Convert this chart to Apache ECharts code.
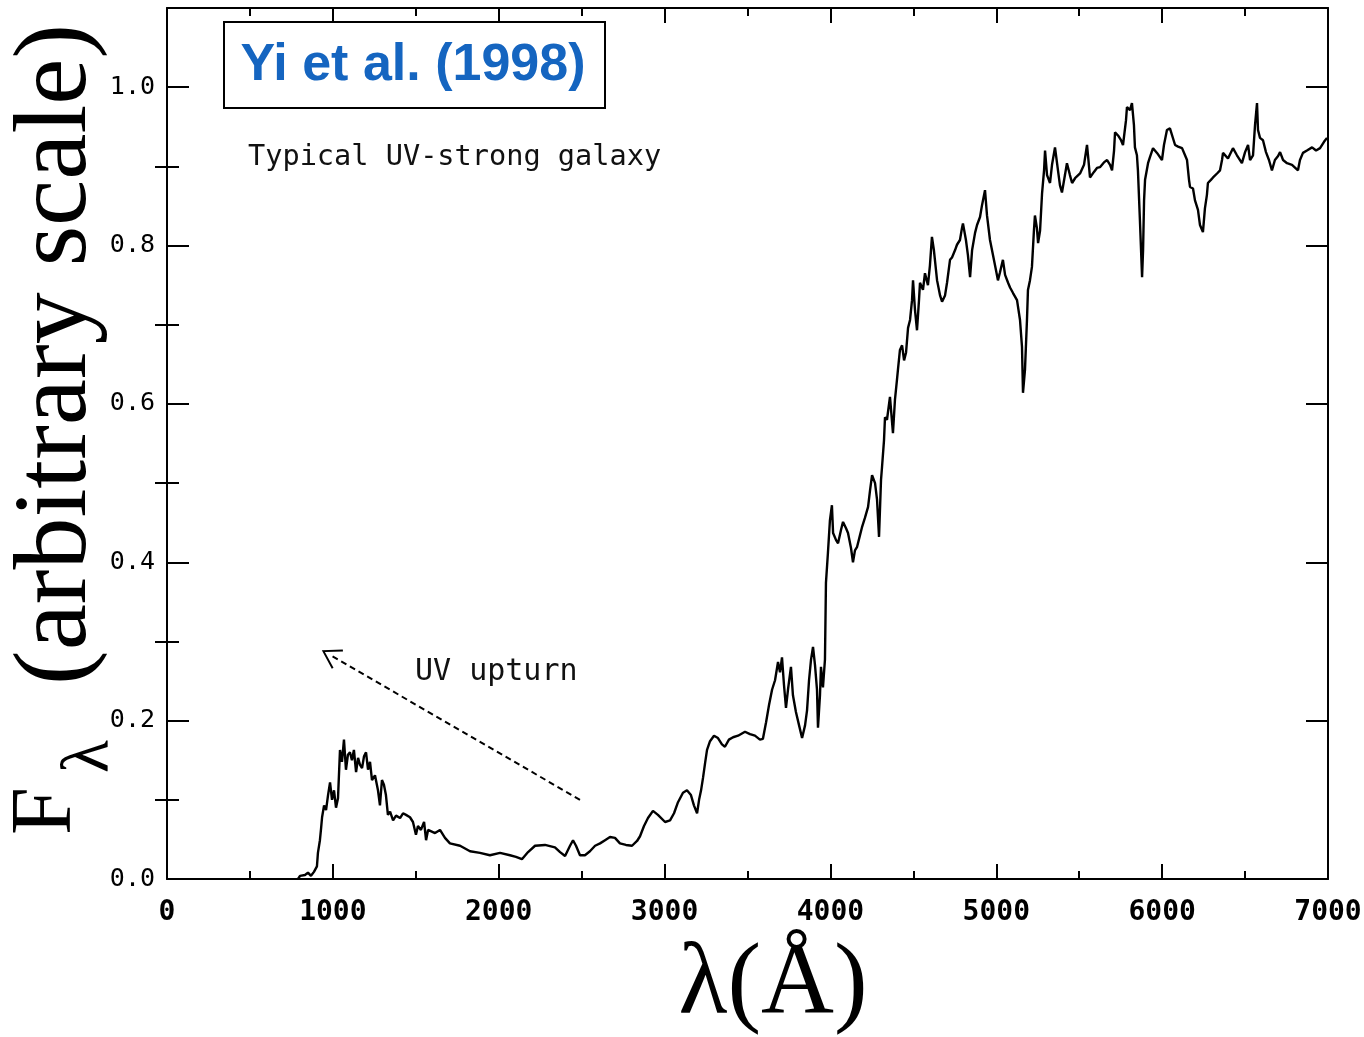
<!DOCTYPE html>
<html>
<head>
<meta charset="utf-8">
<script src="https://cdn.jsdelivr.net/npm/echarts@6/dist/echarts.min.js"></script>
<style>
  html, body { margin: 0; padding: 0; background: #fff; overflow: hidden; }
  #chart { width: 1364px; height: 1037px; }
</style>
</head>
<body>
<div id="chart"></div>
<script>
// Spectral energy distribution of a typical UV-strong galaxy (Yi et al. 1998)
// Wavelength in Angstrom
const wavelength = [
  790, 802, 832, 850, 868, 886, 904, 910, 922, 929,
  935, 947, 959, 971, 983, 995, 1007, 1019, 1031, 1043,
  1049, 1055, 1067, 1079, 1091, 1103, 1115, 1127, 1140, 1152,
  1164, 1176, 1188, 1200, 1212, 1224, 1236, 1254, 1272, 1284,
  1296, 1308, 1320, 1332, 1345, 1363, 1381, 1405, 1423, 1441,
  1465, 1483, 1501, 1513, 1531, 1550, 1562, 1574, 1586, 1616,
  1646, 1676, 1706, 1767, 1827, 1887, 1947, 2008, 2068, 2104,
  2140, 2177, 2219, 2279, 2339, 2370, 2400, 2430, 2448, 2466,
  2490, 2520, 2550, 2581, 2611, 2641, 2671, 2701, 2731, 2767,
  2804, 2834, 2852, 2876, 2900, 2930, 2960, 3003, 3033, 3057,
  3081, 3111, 3135, 3159, 3177, 3196, 3208, 3220, 3232, 3244,
  3256, 3274, 3298, 3322, 3346, 3364, 3388, 3413, 3443, 3485,
  3515, 3545, 3575, 3593, 3612, 3630, 3648, 3666, 3684, 3696,
  3708, 3720, 3732, 3744, 3762, 3774, 3792, 3811, 3829, 3847,
  3859, 3871, 3883, 3895, 3907, 3919, 3925, 3937, 3943, 3955,
  3967, 3973, 3985, 3997, 4009, 4016, 4034, 4046, 4064, 4076,
  4094, 4106, 4124, 4136, 4148, 4160, 4178, 4190, 4208, 4227,
  4239, 4251, 4269, 4281, 4293, 4305, 4311, 4323, 4329, 4341,
  4359, 4377, 4389, 4401, 4407, 4419, 4432, 4444, 4456, 4468,
  4480, 4492, 4498, 4510, 4522, 4534, 4540, 4558, 4570, 4588,
  4600, 4612, 4624, 4643, 4661, 4673, 4691, 4703, 4721, 4733,
  4751, 4763, 4781, 4793, 4799, 4817, 4829, 4842, 4854, 4872,
  4884, 4902, 4914, 4932, 4944, 4962, 4980, 4998, 5010, 5022,
  5040, 5053, 5071, 5083, 5101, 5125, 5143, 5155, 5161, 5173,
  5185, 5191, 5203, 5215, 5227, 5233, 5245, 5252, 5264, 5276,
  5288, 5294, 5306, 5324, 5336, 5354, 5372, 5384, 5396, 5414,
  5426, 5444, 5457, 5475, 5505, 5529, 5547, 5553, 5565, 5589,
  5607, 5625, 5649, 5668, 5686, 5698, 5710, 5716, 5734, 5752,
  5764, 5776, 5782, 5788, 5806, 5818, 5830, 5836, 5848, 5854,
  5866, 5879, 5885, 5891, 5897, 5915, 5927, 5945, 5969, 5999,
  6011, 6029, 6047, 6059, 6078, 6096, 6120, 6138, 6150, 6162,
  6168, 6186, 6198, 6216, 6228, 6246, 6258, 6270, 6276, 6294,
  6307, 6331, 6349, 6361, 6367, 6397, 6427, 6451, 6481, 6500,
  6518, 6530, 6548, 6560, 6572, 6578, 6590, 6608, 6626, 6644,
  6662, 6680, 6699, 6711, 6729, 6753, 6783, 6819, 6831, 6849,
  6873, 6904, 6928, 6952, 6976, 6994
];

// F_lambda, arbitrary scale (same order as wavelength)
const flux = [
  0.000, 0.004, 0.005, 0.008, 0.004, 0.009, 0.016, 0.033, 0.049, 0.064,
  0.078, 0.093, 0.087, 0.106, 0.122, 0.100, 0.112, 0.090, 0.102, 0.163,
  0.165, 0.148, 0.176, 0.138, 0.157, 0.160, 0.150, 0.163, 0.135, 0.153,
  0.144, 0.140, 0.155, 0.160, 0.138, 0.148, 0.125, 0.131, 0.112, 0.093,
  0.125, 0.119, 0.106, 0.081, 0.085, 0.074, 0.080, 0.077, 0.083, 0.081,
  0.078, 0.072, 0.056, 0.067, 0.062, 0.072, 0.049, 0.062, 0.064, 0.058,
  0.062, 0.052, 0.045, 0.042, 0.035, 0.033, 0.030, 0.033, 0.030, 0.028,
  0.025, 0.034, 0.042, 0.043, 0.040, 0.034, 0.029, 0.042, 0.049, 0.042,
  0.030, 0.030, 0.035, 0.042, 0.045, 0.049, 0.053, 0.052, 0.045, 0.043,
  0.042, 0.048, 0.054, 0.067, 0.077, 0.086, 0.081, 0.072, 0.074, 0.083,
  0.097, 0.109, 0.112, 0.106, 0.093, 0.083, 0.100, 0.112, 0.128, 0.146,
  0.163, 0.174, 0.181, 0.178, 0.170, 0.167, 0.176, 0.179, 0.181, 0.186,
  0.183, 0.181, 0.176, 0.177, 0.198, 0.220, 0.239, 0.251, 0.274, 0.261,
  0.280, 0.245, 0.216, 0.239, 0.268, 0.232, 0.211, 0.194, 0.178, 0.194,
  0.213, 0.251, 0.277, 0.293, 0.270, 0.239, 0.191, 0.232, 0.268, 0.242,
  0.277, 0.374, 0.412, 0.453, 0.472, 0.437, 0.428, 0.424, 0.441, 0.451,
  0.443, 0.437, 0.418, 0.400, 0.415, 0.419, 0.434, 0.444, 0.456, 0.470,
  0.491, 0.510, 0.500, 0.479, 0.432, 0.504, 0.520, 0.554, 0.583, 0.580,
  0.609, 0.563, 0.605, 0.630, 0.643, 0.668, 0.674, 0.655, 0.665, 0.696,
  0.706, 0.731, 0.756, 0.718, 0.693, 0.731, 0.753, 0.744, 0.765, 0.750,
  0.775, 0.811, 0.794, 0.756, 0.737, 0.729, 0.737, 0.753, 0.782, 0.785,
  0.794, 0.801, 0.807, 0.822, 0.828, 0.807, 0.788, 0.760, 0.794, 0.816,
  0.826, 0.836, 0.851, 0.870, 0.838, 0.807, 0.788, 0.769, 0.756, 0.766,
  0.782, 0.763, 0.753, 0.747, 0.740, 0.731, 0.706, 0.672, 0.614, 0.643,
  0.706, 0.744, 0.756, 0.773, 0.819, 0.838, 0.822, 0.803, 0.819, 0.866,
  0.895, 0.920, 0.889, 0.879, 0.902, 0.924, 0.895, 0.876, 0.867, 0.889,
  0.904, 0.889, 0.879, 0.885, 0.891, 0.902, 0.927, 0.914, 0.886, 0.893,
  0.898, 0.899, 0.905, 0.908, 0.902, 0.895, 0.920, 0.943, 0.939, 0.933,
  0.927, 0.929, 0.958, 0.975, 0.971, 0.980, 0.952, 0.924, 0.914, 0.895,
  0.832, 0.760, 0.794, 0.857, 0.883, 0.904, 0.912, 0.923, 0.917, 0.908,
  0.927, 0.946, 0.948, 0.949, 0.927, 0.925, 0.923, 0.914, 0.908, 0.883,
  0.874, 0.872, 0.857, 0.845, 0.826, 0.817, 0.847, 0.864, 0.879, 0.883,
  0.886, 0.891, 0.895, 0.908, 0.917, 0.910, 0.923, 0.914, 0.904, 0.918,
  0.927, 0.908, 0.914, 0.952, 0.980, 0.946, 0.936, 0.933, 0.918, 0.908,
  0.895, 0.908, 0.913, 0.918, 0.908, 0.904, 0.902, 0.895, 0.908, 0.917,
  0.920, 0.924, 0.920, 0.923, 0.931, 0.936
];

// Axis ticks
const xTickValues = [0, 1000, 2000, 3000, 4000, 5000, 6000, 7000];
const yTickValues = [0, 0.2, 0.4, 0.6, 0.8, 1.0];
const yMinorTickValues = [0.1, 0.3, 0.5, 0.7, 0.9];

// "UV upturn" arrow, tail and head in data space
const arrowTail = [2490, 0.100];
const arrowHead = [983, 0.283];

const spectrum = wavelength.map((w, i) => [w, flux[i]]);

const TICK_FONT = '"DejaVu Sans Mono", monospace';
const SERIF = '"Liberation Serif", "DejaVu Serif", serif';
const axisLine = { show: true, onZero: false, lineStyle: { color: '#000', width: 2 } };

function xAxisDef(position, showLabels) {
  return {
    type: 'value', position: position, min: 0, max: 7000, interval: 1000,
    axisLine: axisLine,
    axisTick: { show: true, inside: true, length: 15, lineStyle: { color: '#000', width: 2 } },
    minorTick: { show: true, splitNumber: 2, length: 8, lineStyle: { color: '#000', width: 2 } },
    axisLabel: {
      show: showLabels, customValues: xTickValues, margin: 20,
      color: '#000', fontFamily: TICK_FONT, fontSize: 28, fontWeight: 'bold',
      formatter: v => String(v)
    },
    splitLine: { show: false }
  };
}

function yAxisDef(position, major, withLabels) {
  return {
    type: 'value', position: position, min: 0, max: 1.1, interval: 0.1,
    axisLine: major ? axisLine : { show: false },
    axisTick: {
      show: true, inside: true, length: major ? 22 : 12,
      customValues: major ? yTickValues : yMinorTickValues,
      lineStyle: { color: '#000', width: 2 }
    },
    axisLabel: {
      show: withLabels, customValues: yTickValues, margin: 12,
      color: '#000', fontFamily: TICK_FONT, fontSize: 25,
      formatter: v => v.toFixed(1)
    },
    splitLine: { show: false }
  };
}

const chart = echarts.init(document.getElementById('chart'), null, { renderer: 'canvas' });

chart.setOption({
  animation: false,
  backgroundColor: '#fff',
  grid: {
    left: 167, right: 36, top: 8, bottom: 158,
    containLabel: false, outerBoundsMode: 'none'
  },
  xAxis: [xAxisDef('bottom', true), xAxisDef('top', false)],
  yAxis: [
    yAxisDef('left', true, true),
    yAxisDef('left', false, false),
    yAxisDef('right', true, false),
    yAxisDef('right', false, false)
  ],
  series: [{
    type: 'line',
    data: spectrum,
    xAxisIndex: 0,
    yAxisIndex: 0,
    showSymbol: false,
    symbol: 'none',
    lineStyle: { color: '#000', width: 2.4 },
    silent: true,
    markLine: {
      silent: true,
      animation: false,
      label: { show: false },
      lineStyle: { color: '#000', width: 2, type: [6, 4] },
      data: [[
        { coord: arrowTail, symbol: 'none' },
        {
          coord: arrowHead,
          symbol: 'path://M0,0 L10,16 L8.6,17 L0,3.2 L-8.6,17 L-10,16 Z',
          symbolSize: [22, 19]
        }
      ]]
    }
  }],
  graphic: [
    // reference label box
    {
      type: 'rect', left: 223, top: 21,
      shape: { width: 381, height: 86 },
      style: { fill: '#fff', stroke: '#000', lineWidth: 2 }
    },
    {
      type: 'text', x: 413, y: 66,
      style: {
        text: 'Yi et al. (1998)', fill: '#1565c0',
        font: 'bold 52px "Liberation Sans", Arial, sans-serif',
        textAlign: 'center', textVerticalAlign: 'middle', verticalAlign: 'middle'
      }
    },
    {
      type: 'text', x: 248, y: 158,
      style: {
        text: 'Typical UV-strong galaxy', fill: '#111',
        font: '28.6px ' + TICK_FONT,
        textAlign: 'left', textVerticalAlign: 'middle', verticalAlign: 'middle'
      }
    },
    {
      type: 'text', x: 415, y: 672,
      style: {
        text: 'UV upturn', fill: '#111',
        font: '30px ' + TICK_FONT,
        textAlign: 'left', textVerticalAlign: 'middle', verticalAlign: 'middle'
      }
    },
    // x-axis title
    {
      type: 'text', x: 773, y: 1037,
      style: {
        text: 'λ(Å)', fill: '#000',
        font: '101px ' + SERIF,
        textAlign: 'center', textVerticalAlign: 'bottom', verticalAlign: 'bottom'
      }
    },
    // y-axis title, written bottom-to-top
    {
      type: 'group', x: 86, y: 835, rotation: Math.PI / 2,
      children: [
        {
          type: 'text', x: 0, y: 4,
          style: {
            text: 'F', fill: '#000', font: '86px ' + SERIF,
            textAlign: 'left', textVerticalAlign: 'bottom', verticalAlign: 'bottom'
          }
        },
        {
          type: 'text', x: 62, y: 38,
          style: {
            text: 'λ', fill: '#000', font: '68px ' + SERIF,
            textAlign: 'left', textVerticalAlign: 'bottom', verticalAlign: 'bottom'
          }
        },
        {
          type: 'text', x: 150, y: 24,
          style: {
            text: '(arbitrary scale)', fill: '#000', font: '104px ' + SERIF,
            textAlign: 'left', textVerticalAlign: 'bottom', verticalAlign: 'bottom'
          }
        }
      ]
    }
  ]
});
</script>
</body>
</html>
